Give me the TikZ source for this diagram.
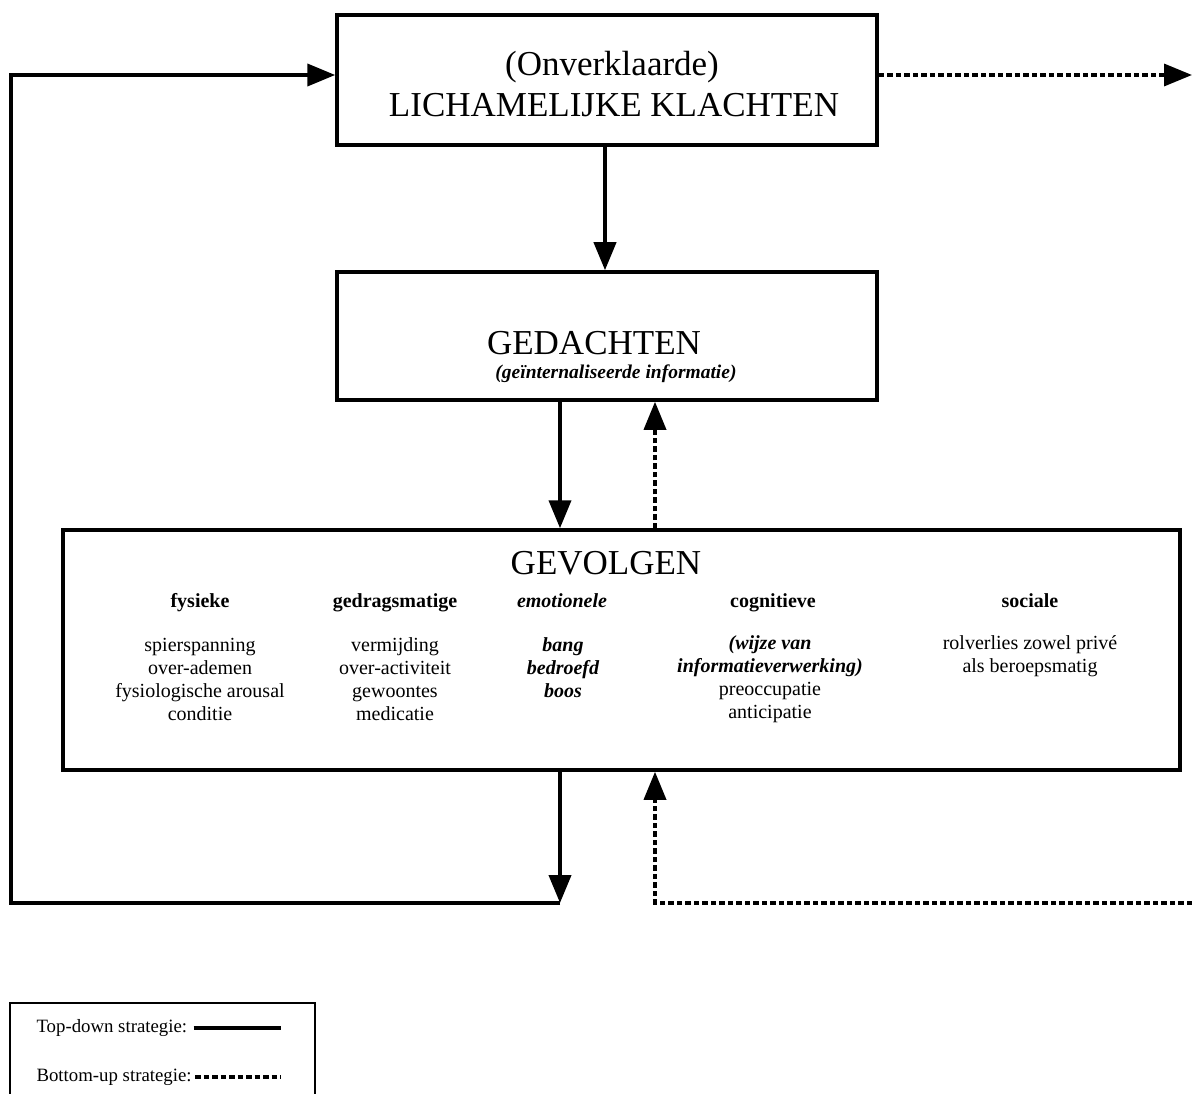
\documentclass[tikz,border=0pt]{standalone}
\usepackage{fontspec}
\setmainfont{Liberation Serif}
\usetikzlibrary{arrows.meta}
\begin{document}
\begin{tikzpicture}[
        x=1pt,
        y=-1pt,
        line join=miter
    ]
    \tikzset{
        box/.style = {rectangle, draw=black, line width=3.5pt, inner sep=0pt},
        legbox/.style = {rectangle, draw=black, line width=2pt, inner sep=0pt},
        bigtext/.style = {font=\fontsize{35}{40}\selectfont},
        subtext/.style = {font=\fontsize{19.5}{22}\selectfont\bfseries\itshape},
        colhead/.style = {anchor=base, font=\fontsize{20}{23}\selectfont\bfseries},
        coltext/.style = {align=center, font=\fontsize{20}{23}\selectfont},
        legtext/.style = {anchor=west, font=\fontsize{18.8}{22}\selectfont},
        topdown/.style = {line width=4pt, -{Triangle[width=22pt,length=28pt]}},
        topdownn/.style = {line width=4pt},
        bottomup/.style = {line width=3.5pt, dash pattern=on 5.5pt off 3pt, -{Triangle[width=22pt,length=28pt]}},
        bottomupn/.style = {line width=3.5pt, dash pattern=on 5.5pt off 3pt},
    }
    \useasboundingbox (0,0) rectangle (1192,1094);
    % boxes
    \node[box, minimum width=540pt, minimum height=130pt] (klachten) at (607,80) {};
    \node[box, minimum width=540pt, minimum height=128pt] (gedachten) at (607,336) {};
    \node[box, minimum width=1117pt, minimum height=240pt] (gevolgen) at (621.5,650) {};
    \node[legbox, minimum width=305pt, minimum height=100pt] (legenda) at (162.5,1053) {};
    %
    \node[bigtext] (onverkl) at (612,67) {(Onverklaarde)};
    \node[bigtext] (lichklacht) at (614,105) {LICHAMELIJKE KLACHTEN};
    \node[bigtext] (gedtitel) at (594,343) {GEDACHTEN};
    \node[subtext] (gedsub) at (616,374) {(geïnternaliseerde informatie)};
    \node[bigtext] (gevtitel) at (606,563) {GEVOLGEN};
    %
    \node[colhead] (hfys) at (200,607) {fysieke};
    \node[colhead] (hgedr) at (395,607) {gedragsmatige};
    \node[colhead, font=\fontsize{20}{23}\selectfont\bfseries\itshape] (hemo) at (562,607) {emotionele};
    \node[colhead] (hcogn) at (773,607) {cognitieve};
    \node[colhead] (hsoc) at (1030,607) {sociale};
    %
    \node[coltext] (tfys) at (200,679.5) {spierspanning\\over-ademen\\fysiologische arousal\\conditie};
    \node[coltext] (tgedr) at (395,679.5) {vermijding\\over-activiteit\\gewoontes\\medicatie};
    \node[coltext, font=\fontsize{20}{23}\selectfont\bfseries\itshape] (temo) at (563,668) {bang\\bedroefd\\boos};
    \node[coltext] (tcogn) at (770,679.5) {\textbf{\textit{(wijze van}}\\\textbf{\textit{informatieverwerking)}}\\preoccupatie\\anticipatie};
    \node[coltext] (tsoc) at (1030,656.5) {rolverlies zowel privé\\als beroepsmatig};
    %
    \coordinate (loopbr) at (560,903);
    \coordinate (loopbl) at (11,903);
    \coordinate (dotbl) at (655,903);
    \coordinate (dotbr) at (1192,903);
    \coordinate (outr) at (1192,75);
    %
    \draw[topdown] (klachten.south -| {(605,0)}) -- (gedachten.north -| {(605,0)});
    \draw[topdown] (gedachten.south -| loopbr) -- (gevolgen.north -| loopbr);
    \draw[bottomup] (gevolgen.north -| dotbl) -- (gedachten.south -| dotbl);
    \draw[topdown] (gevolgen.south -| loopbr) -- (loopbr);
    \draw[topdown] (loopbr) -- (loopbl) |- (klachten.west |- outr);
    \draw[bottomup] (klachten.east |- outr) -- (outr);
    \draw[bottomup] (dotbr) -- (dotbl) -- (gevolgen.south -| dotbl);
    % legenda
    \node[legtext] (ltd) at (33,1028) {Top-down strategie:};
    \node[legtext] (lbu) at (33,1077) {Bottom-up strategie:};
    \coordinate (legend) at (281,1050);
    \draw[topdownn] ([xshift=3pt]ltd.east) -- (ltd.east -| legend);
    \draw[bottomupn] (lbu.east) -- (lbu.east -| legend);
\end{tikzpicture}
\end{document}
